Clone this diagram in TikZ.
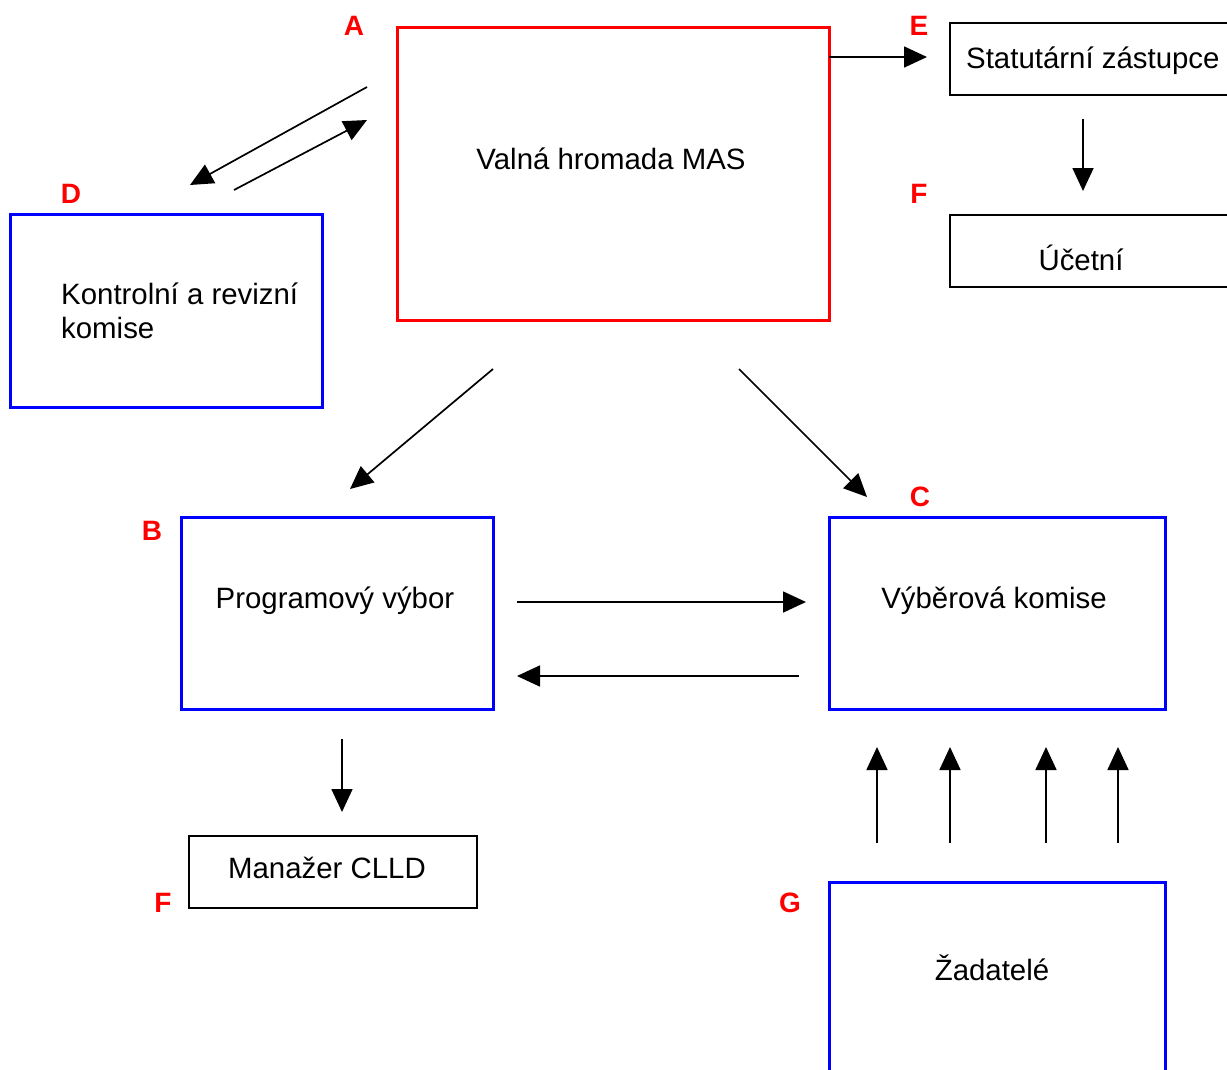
\documentclass[tikz,border=0pt]{standalone}
\usepackage{fontspec}
\setmainfont{Liberation Sans}
\usetikzlibrary{arrows.meta}
\tikzset{
  redbox/.style={draw=red, line width=3pt, inner sep=0pt},
  bluebox/.style={draw=blue, line width=3pt, inner sep=0pt},
  blackbox/.style={draw=black, line width=1.5pt, inner sep=0pt},
  boxtext/.style={font=\fontsize{29.4}{34}\selectfont, anchor=base, inner sep=0pt},
  tag/.style={text=red, font=\fontsize{28}{30}\selectfont\bfseries, anchor=base, inner sep=0pt},
  conn/.style={line width=1.7pt, -{Triangle[length=23pt,width=21pt]}},
}
\begin{document}
\begin{tikzpicture}[x=1pt,y=-1pt]
\useasboundingbox (0,0) rectangle (1227,1069);
\clip (0,0) rectangle (1227,1069);
\fill[white] (0,0) rectangle (1227,1069);

% organisational boxes
\node[redbox, minimum width=432pt, minimum height=293pt] (A) at (613,173.5) {};
\node[blackbox, minimum width=300pt, minimum height=72pt] (E) at (1100,59) {};
\node[blackbox, minimum width=300pt, minimum height=72pt] (F1) at (1100,251) {};
\node[bluebox, minimum width=312pt, minimum height=193pt] (D) at (166,310.5) {};
\node[bluebox, minimum width=312pt, minimum height=192pt] (B) at (337,613) {};
\node[bluebox, minimum width=336pt, minimum height=192pt] (C) at (997,613) {};
\node[blackbox, minimum width=288pt, minimum height=72pt] (F2) at (333,872) {};
\node[bluebox, minimum width=336pt, minimum height=240pt] (G) at (997,1002) {};

% box texts
\node[boxtext] (tA) at (611,169) {Valná hromada MAS};
\node[boxtext, anchor=base west] (tE) at (966,68) {Statutární zástupce};
\node[boxtext] (tF1) at (1081,270) {Účetní};
\node[boxtext, anchor=base west] (tD1) at (61,304) {Kontrolní a revizní};
\node[boxtext, anchor=base west] (tD2) at (61,338) {komise};
\node[boxtext] (tB) at (335,608) {Programový výbor};
\node[boxtext] (tC) at (994,608) {Výběrová komise};
\node[boxtext] (tF2) at (327,878) {Manažer CLLD};
\node[boxtext] (tG) at (992,980) {Žadatelé};

% red letters
\node[tag] (lA) at (354,35) {A};
\node[tag] (lE) at (919,35) {E};
\node[tag] (lF1) at (919,203) {F};
\node[tag] (lD) at (71,203) {D};
\node[tag] (lB) at (152,540) {B};
\node[tag] (lC) at (920,506) {C};
\node[tag] (lF2) at (163,912) {F};
\node[tag] (lG) at (790,912) {G};

% connector ends
\coordinate (aE1) at (829,57);   \coordinate (aE2) at (927,57);
\coordinate (eF1) at (1083,119); \coordinate (eF2) at (1083,191);
\coordinate (aD1) at (367,87);   \coordinate (aD2) at (190,185);
\coordinate (dA1) at (234,190);  \coordinate (dA2) at (367,120);
\coordinate (aB1) at (493,369);  \coordinate (aB2) at (350,489);
\coordinate (aC1) at (739,369);  \coordinate (aC2) at (867,497);
\coordinate (bC1) at (517,602);  \coordinate (bC2) at (806,602);
\coordinate (cB1) at (799,676);  \coordinate (cB2) at (517,676);
\coordinate (bM1) at (342,739);  \coordinate (bM2) at (342,812);
\coordinate (g1a) at (877,843);  \coordinate (g1b) at (877,747);
\coordinate (g2a) at (950,843);  \coordinate (g2b) at (950,747);
\coordinate (g3a) at (1046,843); \coordinate (g3b) at (1046,747);
\coordinate (g4a) at (1118,843); \coordinate (g4b) at (1118,747);

% connectors
\draw[conn] (aE1) -- (aE2);
\draw[conn] (eF1) -- (eF2);
\draw[conn] (aD1) -- (aD2);
\draw[conn] (dA1) -- (dA2);
\draw[conn] (aB1) -- (aB2);
\draw[conn] (aC1) -- (aC2);
\draw[conn] (bC1) -- (bC2);
\draw[conn] (cB1) -- (cB2);
\draw[conn] (bM1) -- (bM2);
\draw[conn] (g1a) -- (g1b);
\draw[conn] (g2a) -- (g2b);
\draw[conn] (g3a) -- (g3b);
\draw[conn] (g4a) -- (g4b);
\end{tikzpicture}
\end{document}
